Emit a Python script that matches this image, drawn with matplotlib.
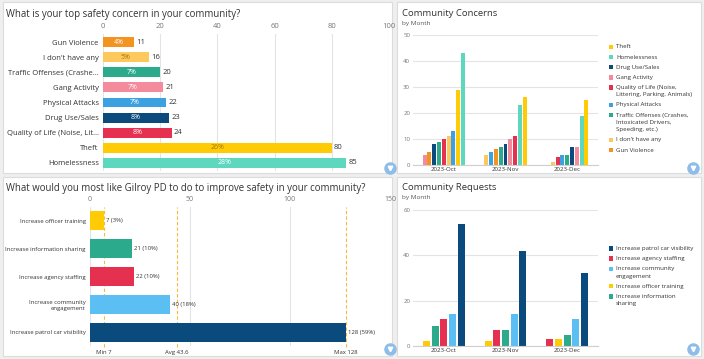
import numpy as np
import matplotlib.pyplot as plt
from matplotlib.patches import Rectangle
from matplotlib.lines import Line2D

plt.rcParams['font.family'] = ['Open Sans', 'DejaVu Sans']

W, H = 704, 359

# ---- data ----
concern_labels = ['Gun Violence', "I don't have any", 'Traffic Offenses (Crashe...', 'Gang Activity',
                  'Physical Attacks', 'Drug Use/Sales', 'Quality of Life (Noise, Lit...', 'Theft', 'Homelessness']
concern_totals = [11, 16, 20, 21, 22, 23, 24, 80, 85]
concern_colors = ['#f39422', '#fdc95c', '#2bab8c', '#f38b9c', '#3ba1e0', '#0b4a7d', '#e6304f', '#ffcb05', '#5dd8bf']

request_labels = ['Increase officer training', 'Increase information sharing', 'Increase agency staffing',
                  'Increase community\nengagement', 'Increase patrol car visibility']
request_totals = [7, 21, 22, 40, 128]
request_colors = ['#ffcb05', '#2bab8c', '#e6304f', '#5cbff4', '#0b4a7d']

months = ['2023-Oct', '2023-Nov', '2023-Dec']

# by month, in legend order
concern_series = ['Theft', 'Homelessness', 'Drug Use/Sales', 'Gang Activity',
                  'Quality of Life (Noise,\nLittering, Parking, Animals)', 'Physical Attacks',
                  'Traffic Offenses (Crashes,\nIntoxicated Drivers,\nSpeeding, etc.)', "I don't have any", 'Gun Violence']
theft = [29, 26, 25]
homelessness = [43, 23, 19]
drug_use = [8, 8, 7]
gang_activity = [4, 10, 7]
quality_of_life = [10, 11, 3]
physical_attacks = [13, 5, 4]
traffic_offenses = [9, 7, 4]
dont_have_any = [11, 4, 1]
gun_violence = [5, 6, 0]
concern_series_colors = ['#ffcb05', '#5dd8bf', '#0b4a7d', '#f38b9c', '#e6304f', '#3ba1e0', '#2bab8c', '#fdc95c', '#f39422']

request_series = ['Increase patrol car visibility', 'Increase agency staffing', 'Increase community\nengagement',
                  'Increase officer training', 'Increase information\nsharing']
patrol = [54, 42, 32]
staffing = [12, 7, 3]
community = [14, 14, 12]
training = [2, 2, 3]
info_sharing = [9, 7, 5]
request_series_colors = ['#0b4a7d', '#e6304f', '#5cbff4', '#ffcb05', '#2bab8c']

TXT = '#333333'
GRAY = '#777777'

fig = plt.figure(figsize=(7.04, 3.59), dpi=100)
fig.patch.set_facecolor('#efefef')


def box(l, t, r, b):
    return [l / W, 1 - b / H, (r - l) / W, (b - t) / H]


def ftext(x, y, s, **kw):
    fig.text(x / W, 1 - y / H, s, **kw)


def filter_icon(x, y):
    fig.add_artist(Line2D([x / W], [1 - y / H], marker='o', markersize=8, color='#8dbde8',
                          transform=fig.transFigure))
    fig.add_artist(Line2D([x / W], [1 - y / H], marker='v', markersize=3.2, color='white',
                          transform=fig.transFigure))


def clean(ax):
    ax.set_facecolor('none')
    for s in ax.spines.values():
        s.set_visible(False)


# panels
for l, t, r, b in [(3, 2, 392, 173), (397, 2, 701, 173), (3, 177, 392, 356), (397, 177, 701, 356)]:
    fig.add_artist(Rectangle((l / W, 1 - b / H), (r - l) / W, (b - t) / H, transform=fig.transFigure,
                             facecolor='white', edgecolor='#dcdcdc', lw=0.8, zorder=-5))

# ---- top-left: totals of concerns ----
ftext(6, 14, 'What is your top safety concern in your community?', fontsize=6.9, va='center', color=TXT)
ax1 = fig.add_axes(box(103, 34, 389, 171))
clean(ax1)
y = np.arange(len(concern_labels))
ax1.barh(y, concern_totals, height=0.66, color=concern_colors, zorder=2)
ax1.set_xlim(0, 100)
ax1.set_ylim(len(y) - 0.47, -0.53)
ax1.xaxis.tick_top()
ax1.set_xticks([0, 20, 40, 60, 80, 100])
ax1.tick_params(axis='x', length=0, pad=3, labelsize=5.5, labelcolor=GRAY)
ax1.set_yticks(y, concern_labels)
ax1.tick_params(axis='y', length=0, pad=3, labelsize=5.5, labelcolor=TXT)
ax1.grid(axis='x', color='#e4e4e4', lw=0.8, zorder=0)
total = sum(concern_totals)
for i, v in enumerate(concern_totals):
    ax1.text(v + 0.8, i, str(v), va='center', ha='left', fontsize=5.5, color=TXT)
    pc = 'white' if concern_colors[i] not in ('#fdc95c', '#ffcb05') else '#a47800'
    ax1.text(v / 2, i, f'{round(100 * v / total)}%', va='center', ha='center', fontsize=5, color=pc, zorder=3)
filter_icon(390, 168)

# ---- bottom-left: totals of requests ----
ftext(6, 188, 'What would you most like Gilroy PD to do to improve safety in your community?', fontsize=6.9,
      va='center', color=TXT)
ax2 = fig.add_axes(box(90, 207, 390, 346))
clean(ax2)
y2 = np.arange(len(request_labels))
ax2.barh(y2, request_totals, height=0.68, color=request_colors, zorder=2)
ax2.set_xlim(0, 150)
ax2.set_ylim(len(y2) - 0.5, -0.5)
ax2.xaxis.tick_top()
ax2.set_xticks([0, 50, 100, 150])
ax2.tick_params(axis='x', length=0, pad=3, labelsize=5, labelcolor=GRAY)
ax2.set_yticks(y2, request_labels)
ax2.tick_params(axis='y', length=0, pad=3, labelsize=4.3, labelcolor=TXT)
ax2.grid(axis='x', color='#e4e4e4', lw=0.8, zorder=0)
rtotal = sum(request_totals)
for i, v in enumerate(request_totals):
    ax2.text(v + 1.2, i, f'{v} ({round(100 * v / rtotal)}%)', va='center', ha='left', fontsize=4.3, color=TXT)
stats = [('Min', min(request_totals)), ('Avg', rtotal / len(request_totals)), ('Max', max(request_totals))]
for name, v in stats:
    ax2.axvline(v, color='#f6b93b', lw=0.8, ls=(0, (3, 2)), zorder=1, ymin=-0.01, clip_on=False)
    ax2.text(v, -0.045, f'{name} {v:g}', transform=ax2.get_xaxis_transform(), ha='center', va='center',
             fontsize=4.3, color=TXT)
filter_icon(390, 349)


# ---- right: by month, bars sorted within each month ----
def month_bars(ax, data, colors, step, width):
    data = np.array(data)
    for m in range(data.shape[1]):
        order = np.argsort(data[:, m], kind='stable')
        n = len(order)
        for k, s in enumerate(order):
            ax.bar(m + (k - (n - 1) / 2) * step, data[s, m], width=width, color=colors[s], zorder=2)
    ax.set_xlim(-0.5, len(months) - 0.5)
    ax.set_xticks(range(len(months)), months)
    ax.tick_params(axis='x', length=0, pad=1.5, labelsize=4.4, labelcolor=TXT)
    ax.tick_params(axis='y', length=0, pad=2, labelsize=4.4, labelcolor=GRAY)
    ax.grid(axis='y', color='#e4e4e4', lw=0.8, zorder=0)
    ax.spines['bottom'].set_visible(True)
    ax.spines['bottom'].set_color('#cfcfcf')
    ax.spines['bottom'].set_linewidth(0.8)


def side_legend(labels, colors, y0):
    yy = y0
    for lab, c in zip(labels, colors):
        fig.add_artist(Rectangle((609 / W, 1 - (yy + 2.2) / H), 4.4 / W, 4.4 / H, transform=fig.transFigure,
                                 facecolor=c, edgecolor='none'))
        lines = lab.split('\n')
        for j, line in enumerate(lines):
            ftext(616, yy + j * 7.4, line, fontsize=4.4, va='center', ha='left', color=TXT)
        yy += len(lines) * 7.4 + 2.7


ftext(402, 13, 'Community Concerns', fontsize=6.8, va='center', color=TXT)
ftext(402, 23, 'by Month', fontsize=4.6, va='center', color='#555555')
ax3 = fig.add_axes(box(413, 35, 598, 165))
clean(ax3)
month_bars(ax3, [theft, homelessness, drug_use, gang_activity, quality_of_life, physical_attacks,
                 traffic_offenses, dont_have_any, gun_violence], concern_series_colors, 0.078, 0.064)
ax3.set_ylim(0, 50)
ax3.set_yticks(range(0, 51, 10))
side_legend(concern_series, concern_series_colors, 47)
filter_icon(693, 168)

ftext(402, 188, 'Community Requests', fontsize=6.8, va='center', color=TXT)
ftext(402, 198, 'by Month', fontsize=4.6, va='center', color='#555555')
ax4 = fig.add_axes(box(413, 210, 598, 346))
clean(ax4)
month_bars(ax4, [patrol, staffing, community, training, info_sharing], request_series_colors, 0.141, 0.114)
ax4.set_ylim(0, 60)
ax4.set_yticks(range(0, 61, 20))
side_legend(request_series, request_series_colors, 248.5)
filter_icon(693, 349)

fig.savefig('out.png', dpi=100, facecolor=fig.get_facecolor())
